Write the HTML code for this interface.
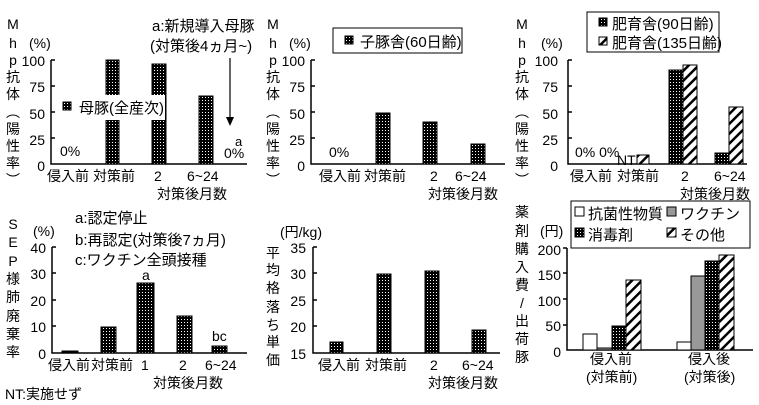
<!DOCTYPE html>
<html><head><meta charset="utf-8"><style>
html,body{margin:0;padding:0;background:#fff;}
svg{display:block;}
text{font-family:"Liberation Sans","Noto Sans CJK JP",sans-serif;font-size:14px;fill:#000;}
.s{font-size:13px;}
.n{font-family:"Liberation Sans","Noto Sans CJK JP",sans-serif;font-size:16px;}
</style></head><body>
<svg width="759" height="405" viewBox="0 0 759 405" xmlns="http://www.w3.org/2000/svg">
<defs>
<pattern id="d" width="3" height="3" patternUnits="userSpaceOnUse"><rect width="3" height="3" fill="#000"/><rect x="1" y="1" width="1" height="1" fill="#fff"/></pattern>
<pattern id="h" width="7" height="7" patternUnits="userSpaceOnUse" patternTransform="rotate(45)"><rect width="7" height="7" fill="#fff"/><rect width="2.5" height="7" fill="#000"/></pattern>
</defs>
<g stroke="#000" stroke-width="1.5" fill="none">
<path d="M51 60 V164 H247 M51 60 H55 M51 86 H55 M51 112 H55 M51 138 H55"/>
<path d="M311 60 V164 H505 M311 60 H315 M311 86 H315 M311 112 H315 M311 138 H315"/>
<path d="M568 60 V164 H747 M568 60 H572 M568 86 H572 M568 112 H572 M568 138 H572"/>
<path d="M52 247 V353 H247 M52 247 H56 M52 273 H56 M52 300 H56 M52 326 H56"/>
<path d="M313 247 V353 H500 M313 247 H317 M313 273 H317 M313 300 H317 M313 326 H317"/>
<path d="M567 248 V350 H753 M563 248 H567 M563 273 H567 M563 299 H567 M563 325 H567"/>
</g>
<g stroke="#000" stroke-width="1">
<rect x="106" y="60" width="13" height="104" fill="url(#d)"/>
<rect x="152" y="64" width="14" height="100" fill="url(#d)"/>
<rect x="199" y="96" width="14" height="68" fill="url(#d)"/>
<rect x="376" y="113" width="14" height="51" fill="url(#d)"/>
<rect x="423" y="122" width="14" height="42" fill="url(#d)"/>
<rect x="471" y="144" width="14" height="20" fill="url(#d)"/>
<rect x="637" y="155" width="12" height="9" fill="url(#h)"/>
<rect x="669" y="70" width="14" height="94" fill="url(#d)"/>
<rect x="683" y="65" width="14" height="99" fill="url(#h)"/>
<rect x="715" y="153" width="14" height="11" fill="url(#d)"/>
<rect x="729" y="107" width="14" height="57" fill="url(#h)"/>
<rect x="62" y="351" width="16" height="2" fill="#000"/>
<rect x="101" y="327" width="15" height="26" fill="url(#d)"/>
<rect x="137" y="283" width="17" height="70" fill="url(#d)"/>
<rect x="177" y="316" width="15" height="37" fill="url(#d)"/>
<rect x="212" y="346" width="15" height="7" fill="url(#d)"/>
<rect x="330" y="342" width="13" height="11" fill="url(#d)"/>
<rect x="377" y="274" width="14" height="79" fill="url(#d)"/>
<rect x="425" y="271" width="14" height="82" fill="url(#d)"/>
<rect x="472" y="330" width="14" height="23" fill="url(#d)"/>
<rect x="583" y="334" width="14" height="16" fill="#fff"/>
<rect x="597" y="348" width="15" height="2" fill="#999"/>
<rect x="612" y="326" width="14" height="24" fill="url(#d)"/>
<rect x="626" y="280" width="15" height="70" fill="url(#h)"/>
<rect x="677" y="342" width="14" height="8" fill="#fff"/>
<rect x="691" y="276" width="14" height="74" fill="#999"/>
<rect x="705" y="261" width="14" height="89" fill="url(#d)"/>
<rect x="719" y="255" width="15" height="95" fill="url(#h)"/>
</g>
<rect x="60" y="95" width="105" height="25" fill="#fff"/>
<rect x="63" y="102" width="8" height="8" fill="url(#d)" stroke="#000"/>
<text x="79" y="113" style="font-size:15px">母豚(全産次)</text>
<rect x="333" y="28" width="129" height="25" fill="#fff" stroke="#000"/>
<rect x="345" y="36" width="8" height="8" fill="url(#d)" stroke="#000"/>
<text x="360" y="47" style="font-size:15px">子豚舎(60日齢)</text>
<rect x="587" y="12" width="132" height="40" fill="#fff" stroke="#000"/>
<rect x="599" y="18" width="8" height="8" fill="url(#d)" stroke="#000"/>
<text x="612" y="29" style="font-size:15px">肥育舎(90日齢)</text>
<rect x="599" y="37" width="8" height="8" fill="url(#h)" stroke="#000"/>
<text x="612" y="48" style="font-size:15px">肥育舎(135日齢)</text>
<rect x="571" y="201" width="179" height="47" fill="#fff" stroke="#000"/>
<rect x="575" y="207" width="9" height="9" fill="#fff" stroke="#000"/>
<text x="588" y="219" style="font-size:15px">抗菌性物質</text>
<rect x="667" y="207" width="9" height="9" fill="#999" stroke="#000"/>
<text x="680" y="219" style="font-size:15px">ワクチン</text>
<rect x="575" y="228" width="9" height="9" fill="url(#d)" stroke="#000"/>
<text x="588" y="240" style="font-size:15px">消毒剤</text>
<rect x="667" y="228" width="9" height="9" fill="url(#h)" stroke="#000"/>
<text x="680" y="240" style="font-size:15px">その他</text>
<g class="s" text-anchor="middle">
<text x="13" y="29">M</text><text x="13" y="48">h</text><text x="13" y="65">p</text><text x="13" y="82">抗</text><text x="13" y="99">体</text><text x="13" y="117">︵</text><text x="13" y="134">陽</text><text x="13" y="151">性</text><text x="13" y="168">率</text><text x="13" y="185">︶</text>
<text x="273" y="29">M</text><text x="273" y="48">h</text><text x="273" y="65">p</text><text x="273" y="82">抗</text><text x="273" y="99">体</text><text x="273" y="117">︵</text><text x="273" y="134">陽</text><text x="273" y="151">性</text><text x="273" y="168">率</text><text x="273" y="185">︶</text>
<text x="522" y="29">M</text><text x="522" y="48">h</text><text x="522" y="65">p</text><text x="522" y="82">抗</text><text x="522" y="99">体</text><text x="522" y="117">︵</text><text x="522" y="134">陽</text><text x="522" y="151">性</text><text x="522" y="168">率</text><text x="522" y="185">︶</text>
<text x="13" y="229">S</text><text x="13" y="247">E</text><text x="13" y="266">P</text><text x="13" y="284">様</text><text x="13" y="302">肺</text><text x="13" y="321">廃</text><text x="13" y="339">棄</text><text x="13" y="357">率</text>
<text x="273" y="258">平</text><text x="273" y="275">均</text><text x="273" y="293">格</text><text x="273" y="312">落</text><text x="273" y="330">ち</text><text x="273" y="347">単</text><text x="273" y="365">価</text>
<text x="522" y="217">薬</text><text x="522" y="236">剤</text><text x="522" y="254">購</text><text x="522" y="272">入</text><text x="522" y="290">費</text><text x="522" y="308">/</text><text x="522" y="326">出</text><text x="522" y="344">荷</text><text x="522" y="362">豚</text>
</g>
<g class="s"><text x="29" y="48">(%)</text><text x="289" y="48">(%)</text><text x="541" y="48">(%)</text><text x="33" y="236">(%)</text><text x="280" y="237">(円/kg)</text><text x="540" y="236">(円)</text></g>
<g class="n" text-anchor="end">
<text x="45" y="66">100</text><text x="45" y="92">75</text><text x="45" y="119">50</text><text x="45" y="145">25</text><text x="45" y="171">0</text>
<text x="305" y="66">100</text><text x="305" y="92">75</text><text x="305" y="119">50</text><text x="305" y="145">25</text><text x="305" y="171">0</text>
<text x="558" y="66">100</text><text x="558" y="92">75</text><text x="558" y="119">50</text><text x="558" y="145">25</text><text x="558" y="171">0</text>
<text x="46" y="253">40</text><text x="46" y="279">30</text><text x="46" y="306">20</text><text x="46" y="332">10</text><text x="46" y="359">0</text>
<text x="306" y="253">35</text><text x="306" y="279">30</text><text x="306" y="306">25</text><text x="306" y="332">20</text><text x="306" y="359">15</text>
<text x="561" y="255">200</text><text x="561" y="280">150</text><text x="561" y="306">100</text><text x="561" y="331">50</text><text x="561" y="357">0</text>
</g>
<g>
<text x="47" y="181">侵入前</text><text x="93" y="181">対策前</text><text x="154" y="181">2</text><text x="187" y="181">6~24</text><text x="157" y="199">対策後月数</text>
<text x="319" y="181">侵入前</text><text x="364" y="181">対策前</text><text x="430" y="181">2</text><text x="455" y="181">6~24</text><text x="428" y="199">対策後月数</text>
<text x="570" y="181">侵入前</text><text x="617" y="181">対策前</text><text x="681" y="181">2</text><text x="714" y="181">6~24</text><text x="680" y="199">対策後月数</text>
<text x="48" y="370">侵入前</text><text x="91" y="370">対策前</text><text x="141" y="370">1</text><text x="179" y="370">2</text><text x="205" y="370">6~24</text><text x="153" y="388">対策後月数</text>
<text x="318" y="370">侵入前</text><text x="365" y="370">対策前</text><text x="430" y="370">2</text><text x="462" y="370">6~24</text><text x="428" y="388">対策後月数</text>
<text x="590" y="364">侵入前</text><text x="586" y="382">(対策前)</text><text x="688" y="364">侵入後</text><text x="684" y="382">(対策後)</text>
<text x="5" y="399">NT:実施せず</text>
</g>
<text x="60" y="156">0%</text>
<text x="152" y="31" style="font-size:15px">a:新規導入母豚</text>
<text x="150" y="51" style="font-size:15px">(対策後4ヵ月~)</text>
<path d="M230 58 V118" stroke="#000" stroke-width="1.2"/>
<path d="M226 117 L234 117 L230 126 Z" fill="#000"/>
<text x="224" y="158">0%</text><text x="235" y="146" class="s">a</text>
<text x="329" y="157">0%</text>
<text x="575" y="157">0% 0%</text><text x="617" y="165">NT</text>
<text x="75" y="223" style="font-size:15px">a:認定停止</text>
<text x="75" y="245" style="font-size:15px">b:再認定(対策後7ヵ月)</text>
<text x="75" y="265" style="font-size:15px">c:ワクチン全頭接種</text>
<text x="142" y="280">a</text><text x="212" y="341">bc</text>
</svg>
</body></html>
